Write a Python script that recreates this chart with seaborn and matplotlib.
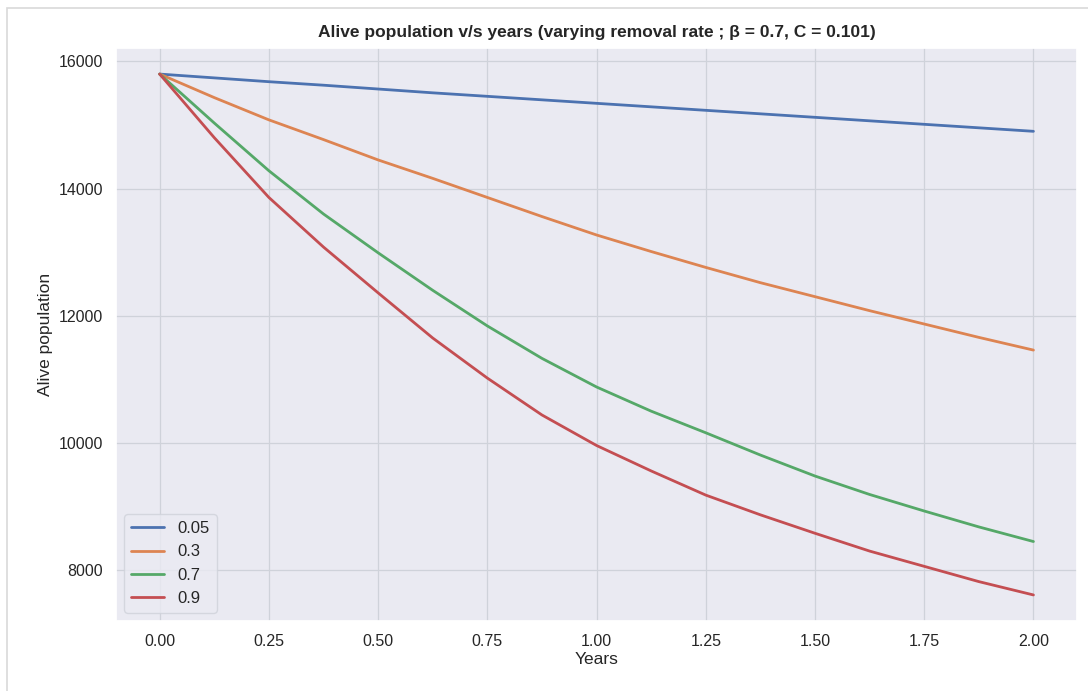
import numpy as np
import pandas as pd
import matplotlib
matplotlib.use("Agg")
import matplotlib.pyplot as plt
from matplotlib.patches import Rectangle
import seaborn as sns

years = [0.0, 0.125, 0.25, 0.375, 0.5, 0.625, 0.75, 0.875, 1.0,
         1.125, 1.25, 1.375, 1.5, 1.625, 1.75, 1.875, 2.0]
rate_labels = ["0.05", "0.3", "0.7", "0.9"]
pop_005 = [15800, 15740, 15680, 15625, 15565, 15505, 15450, 15395, 15340,
           15285, 15230, 15175, 15120, 15065, 15010, 14955, 14900]
pop_03 = [15800, 15430, 15080, 14770, 14450, 14160, 13860, 13560, 13270,
          13010, 12760, 12520, 12300, 12080, 11870, 11660, 11460]
pop_07 = [15800, 15030, 14280, 13600, 12990, 12400, 11840, 11330, 10880,
          10500, 10160, 9810, 9480, 9190, 8930, 8680, 8450]
pop_09 = [15800, 14800, 13860, 13080, 12360, 11650, 11020, 10440, 9960,
          9560, 9180, 8870, 8580, 8300, 8060, 7820, 7610]

series = [pop_005, pop_03, pop_07, pop_09]
frames = []
for lab, vals in zip(rate_labels, series):
    frames.append(pd.DataFrame({"Years": years, "Alive population": vals, "rate": lab}))
df = pd.concat(frames, ignore_index=True)

sns.set_theme(style="darkgrid", rc={"grid.color": "#cfd2da", "grid.linewidth": 0.9})
plt.rcParams["font.family"] = ["Liberation Sans", "DejaVu Sans"]

fig = plt.figure(figsize=(10.88, 6.91), dpi=100)
ax = fig.add_axes([0.1066, 0.1013, 0.8834, 0.8292])

sns.lineplot(data=df, x="Years", y="Alive population", hue="rate",
             hue_order=rate_labels, ax=ax, linewidth=2.0)

ax.set_title("Alive population v/s years (varying removal rate ; \u03b2 = 0.7, C = 0.101)",
             fontsize=12.5, fontweight="bold", pad=8)
ax.set_xlabel("Years", fontsize=12.5, labelpad=2)
ax.set_ylabel("Alive population", fontsize=12.5)
ax.tick_params(labelsize=11.5)
ax.set_xticks([0, 0.25, 0.5, 0.75, 1.0, 1.25, 1.5, 1.75, 2.0])
ax.set_xticklabels(["0.00", "0.25", "0.50", "0.75", "1.00", "1.25", "1.50", "1.75", "2.00"])

h, l = ax.get_legend_handles_labels()
ax.legend(h, l, loc="lower left", fontsize=12, title=None, facecolor="#eaeaf2",
          edgecolor="#cfd2da")

fig.patches.append(Rectangle((0.006, -0.01), 1.0, 0.998, transform=fig.transFigure,
                             fill=False, edgecolor="#d9d9d9", linewidth=1.2))

fig.savefig("out.png", dpi=100)
